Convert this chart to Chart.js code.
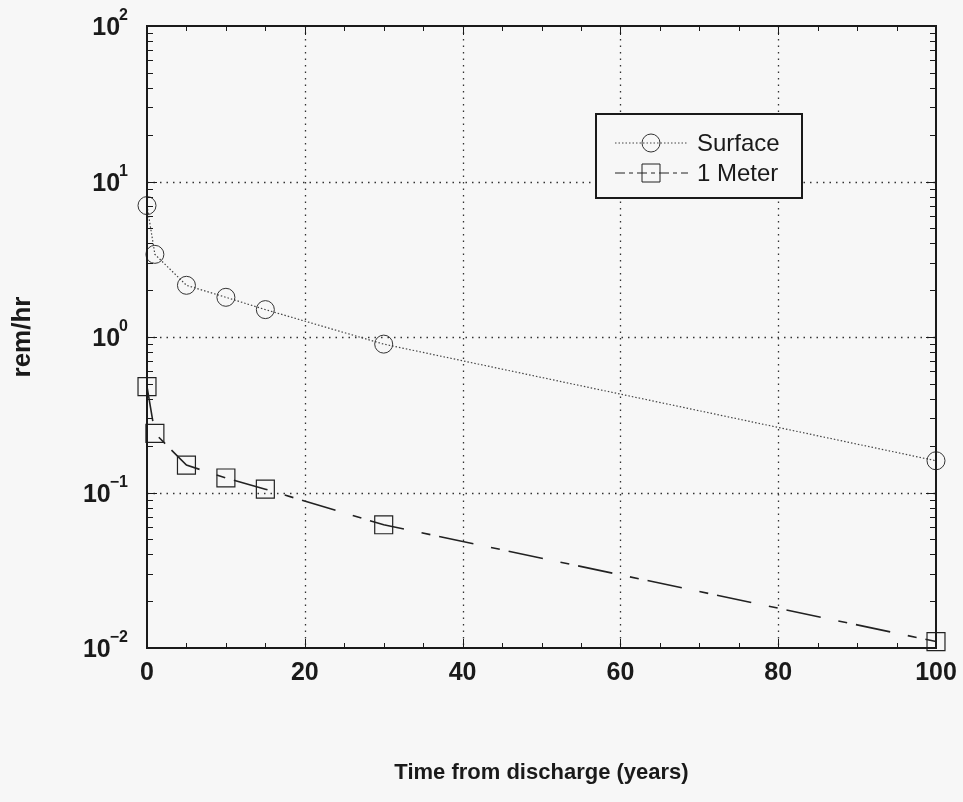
<!DOCTYPE html>
<html>
<head>
<meta charset="utf-8">
<script src="https://cdn.jsdelivr.net/npm/chart.js@4.4.1/dist/chart.umd.min.js"></script>
<style>
  html, body { margin: 0; padding: 0; background: #f7f7f7; }
  canvas { display: block; }
</style>
</head>
<body>
<canvas id="doseChart" width="963" height="802"></canvas>
<script>
// values
const years = [0, 1, 5, 10, 15, 30, 100];
const surface = [7.0, 3.4, 2.15, 1.8, 1.5, 0.9, 0.16];
const oneMeter = [0.48, 0.24, 0.15, 0.124, 0.105, 0.062, 0.011];

const xTicks = [0, 20, 40, 60, 80, 100];
const yExponents = [2, 1, 0, -1, -2];
const seriesNames = ['Surface', '1 Meter'];

const INK = '#1a1a1a';

// frame, grid, ticks, labels and legend drawn off the chart scales
const decor = {
  id: 'decor',
  beforeDatasetsDraw(chart) {
    const { ctx, chartArea: a, scales: { x, y } } = chart;
    ctx.save();
    ctx.strokeStyle = '#333';
    ctx.lineWidth = 1.3;
    ctx.setLineDash([1.5, 5]);
    xTicks.slice(1, -1).forEach(v => {
      const px = Math.round(x.getPixelForValue(v)) + 0.5;
      ctx.beginPath(); ctx.moveTo(px, a.top); ctx.lineTo(px, a.bottom); ctx.stroke();
    });
    yExponents.slice(1, -1).forEach(e => {
      const py = Math.round(y.getPixelForValue(Math.pow(10, e))) + 0.5;
      ctx.beginPath(); ctx.moveTo(a.left, py); ctx.lineTo(a.right, py); ctx.stroke();
    });
    ctx.restore();
  },
  afterDatasetsDraw(chart) {
    const { ctx, chartArea: a, scales: { x, y } } = chart;
    ctx.save();
    ctx.strokeStyle = INK;
    ctx.setLineDash([]);

    // minor + major ticks, inward on all four sides
    ctx.lineWidth = 1;
    for (let v = 5; v < 100; v += 5) {
      const len = v % 20 === 0 ? 9 : 5;
      const px = Math.round(x.getPixelForValue(v)) + 0.5;
      ctx.beginPath();
      ctx.moveTo(px, a.bottom); ctx.lineTo(px, a.bottom - len);
      ctx.moveTo(px, a.top); ctx.lineTo(px, a.top + len);
      ctx.stroke();
    }
    for (let e = -2; e < 2; e++) {
      for (let k = 1; k <= 9; k++) {
        if (k === 1 && e === -2) continue;
        const len = k === 1 ? 10 : 6;
        const py = Math.round(y.getPixelForValue(k * Math.pow(10, e))) + 0.5;
        ctx.beginPath();
        ctx.moveTo(a.left, py); ctx.lineTo(a.left + len, py);
        ctx.moveTo(a.right, py); ctx.lineTo(a.right - len, py);
        ctx.stroke();
      }
    }

    // frame
    ctx.lineWidth = 2;
    ctx.strokeRect(a.left, a.top, a.right - a.left, a.bottom - a.top);

    // x tick labels
    ctx.fillStyle = INK;
    ctx.font = 'bold 25px "Liberation Sans", Arial, sans-serif';
    ctx.textAlign = 'center';
    ctx.textBaseline = 'middle';
    xTicks.forEach(v => ctx.fillText(String(v), x.getPixelForValue(v), a.bottom + 25));

    // y tick labels: 10 with superscript exponent
    yExponents.forEach(e => {
      const py = y.getPixelForValue(Math.pow(10, e));
      const exp = String(e).replace('-', '\u2212');
      ctx.font = 'bold 16px "Liberation Sans", Arial, sans-serif';
      const ew = ctx.measureText(exp).width;
      const right = a.left - 19;
      ctx.textAlign = 'left';
      ctx.textBaseline = 'alphabetic';
      ctx.fillText(exp, right - ew, py - 6);
      ctx.font = 'bold 25px "Liberation Sans", Arial, sans-serif';
      ctx.textAlign = 'right';
      ctx.fillText('10', right - ew + 1, py + 9);
    });

    // axis titles
    ctx.textAlign = 'center';
    ctx.textBaseline = 'middle';
    ctx.font = 'bold 22px "Liberation Sans", Arial, sans-serif';
    ctx.fillText('Time from discharge (years)', (a.left + a.right) / 2, 773);
    ctx.save();
    ctx.translate(23, (a.top + a.bottom) / 2);
    ctx.rotate(-Math.PI / 2);
    ctx.font = 'bold 26px "Liberation Sans", Arial, sans-serif';
    ctx.fillText('rem/hr', 0, 0);
    ctx.restore();

    // legend
    const lx = 596, ly = 114, lw = 206, lh = 84;
    ctx.fillStyle = '#f7f7f7';
    ctx.fillRect(lx, ly, lw, lh);
    ctx.lineWidth = 2;
    ctx.strokeStyle = INK;
    ctx.strokeRect(lx, ly, lw, lh);
    chart.data.datasets.forEach((ds, i) => {
      const cy = ly + 29 + i * 30;
      ctx.strokeStyle = ds.borderColor;
      ctx.lineWidth = 1;
      ctx.setLineDash(i === 0 ? [1.5, 2] : [10, 4, 4, 4]);
      ctx.beginPath(); ctx.moveTo(615, cy); ctx.lineTo(688, cy); ctx.stroke();
      ctx.setLineDash([]);
      ctx.lineWidth = 1;
      ctx.strokeStyle = ds.pointBorderColor;
      ctx.beginPath();
      if (ds.pointStyle === 'circle') ctx.arc(651, cy, 9, 0, Math.PI * 2);
      else ctx.rect(651 - 9, cy - 9, 18, 18);
      ctx.stroke();
      ctx.fillStyle = INK;
      ctx.font = '24px "Liberation Sans", Arial, sans-serif';
      ctx.textAlign = 'left';
      ctx.textBaseline = 'middle';
      ctx.fillText(ds.label, 697, cy + 1);
    });
    ctx.restore();
  }
};

new Chart(document.getElementById('doseChart'), {
  type: 'line',
  data: {
    datasets: [
      {
        label: seriesNames[0],
        data: years.map((t, i) => ({ x: t, y: surface[i] })),
        borderColor: '#444',
        borderWidth: 1.2,
        borderDash: [1.5, 2],
        pointStyle: 'circle',
        pointRadius: 9,
        pointBorderWidth: 1,
        pointBorderColor: '#333',
        pointBackgroundColor: 'rgba(0,0,0,0)',
        tension: 0,
        clip: false
      },
      {
        label: seriesNames[1],
        data: years.map((t, i) => ({ x: t, y: oneMeter[i] })),
        borderColor: '#222',
        borderWidth: 1.6,
        borderDash: [35, 18, 9, 9],
        pointStyle: 'rect',
        pointRadius: 12.7,
        pointBorderWidth: 1.2,
        pointBorderColor: '#222',
        pointBackgroundColor: 'rgba(0,0,0,0)',
        tension: 0,
        clip: false
      }
    ]
  },
  options: {
    responsive: false,
    animation: false,
    events: [],
    layout: { padding: { top: 26, right: 27, left: 0, bottom: 0 } },
    plugins: { legend: { display: false }, tooltip: { enabled: false } },
    scales: {
      x: {
        type: 'linear', min: 0, max: 100,
        ticks: { display: false },
        grid: { display: false },
        border: { display: false },
        afterFit: s => { s.height = 154; }
      },
      y: {
        type: 'logarithmic', min: 0.01, max: 100,
        ticks: { display: false },
        grid: { display: false },
        border: { display: false },
        afterFit: s => { s.width = 147; }
      }
    }
  },
  plugins: [decor]
});
</script>
</body>
</html>
